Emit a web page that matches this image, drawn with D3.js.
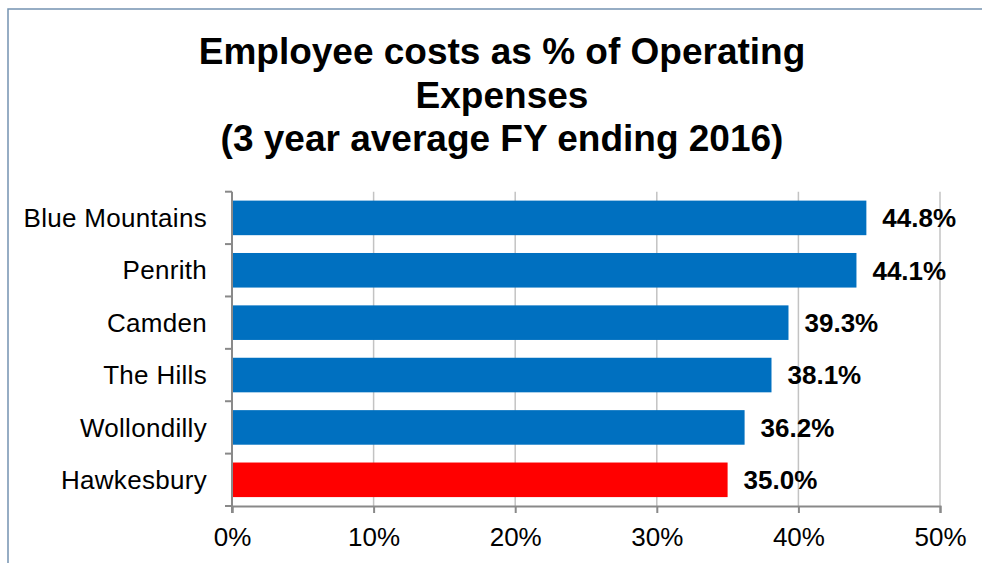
<!DOCTYPE html>
<html>
<head>
<meta charset="utf-8">
<script src="https://cdn.jsdelivr.net/npm/d3@7"></script>
<style>
  html, body { margin: 0; padding: 0; background: #fff; }
  svg { display: block; font-family: "Liberation Sans", Arial, sans-serif; }
</style>
</head>
<body>
<div id="chart"></div>
<script>
// Data
const titleLines = ['Employee costs as % of Operating', 'Expenses', '(3 year average FY ending 2016)']
const councils = ['Blue Mountains', 'Penrith', 'Camden', 'The Hills', 'Wollondilly', 'Hawkesbury']
const costShare = [44.8, 44.1, 39.3, 38.1, 36.2, 35.0]
const barColors = ['#0070c0', '#0070c0', '#0070c0', '#0070c0', '#0070c0', '#ff0000']
const xTicks = [0, 10, 20, 30, 40, 50]

// Canvas
const width = 982,
  height = 563,
  plotLeft = 232,
  plotRight = 940,
  plotTop = 191.7,
  plotBottom = 506

let svg = d3.select('#chart')
  .append('svg')
  .attr('width', width)
  .attr('height', height)

// chart frame (only top & left edges visible in the crop)
svg.append('rect')
  .attr('x', 8)
  .attr('y', 9)
  .attr('width', 1000)
  .attr('height', 600)
  .attr('fill', 'none')
  .attr('stroke', '#7493b1')
  .attr('stroke-width', 1.5)

// title
svg.append('g')
  .selectAll('text')
  .data(titleLines)
  .enter()
  .append('text')
  .attr('x', 502)
  .attr('y', (d, i) => 64 + i * 43.5)
  .attr('text-anchor', 'middle')
  .style('font-size', '37px')
  .style('font-weight', 'bold')
  .attr('fill', '#000')
  .text(d => d)

// scales
let xScale = d3.scaleLinear()
  .domain([0, 50])
  .range([plotLeft, plotRight])

let yScale = d3.scaleBand()
  .domain(councils)
  .range([plotTop, plotBottom])
  .paddingInner(0.34)
  .paddingOuter(0.17)

// gridlines
svg.append('g')
  .selectAll('line')
  .data(xTicks.slice(1))
  .enter()
  .append('line')
  .attr('x1', d => xScale(d))
  .attr('x2', d => xScale(d))
  .attr('y1', plotTop)
  .attr('y2', plotBottom)
  .attr('stroke', '#c3c3c3')
  .attr('stroke-width', 1.5)

// bars
svg.append('g')
  .selectAll('rect')
  .data(costShare)
  .enter()
  .append('rect')
  .attr('x', xScale(0))
  .attr('y', (d, i) => yScale(councils[i]))
  .attr('width', d => xScale(d) - xScale(0))
  .attr('height', yScale.bandwidth())
  .attr('fill', (d, i) => barColors[i])

// value labels
svg.append('g')
  .selectAll('text')
  .data(costShare)
  .enter()
  .append('text')
  .attr('x', d => xScale(d) + 16)
  .attr('y', (d, i) => yScale(councils[i]) + yScale.bandwidth() / 2)
  .attr('dy', '0.36em')
  .style('font-size', '26px')
  .style('font-weight', 'bold')
  .attr('fill', '#000')
  .text(d => d.toFixed(1) + '%')

// y axis (category boundaries as ticks)
let yAxis = svg.append('g')
yAxis.append('line')
  .attr('x1', plotLeft).attr('x2', plotLeft)
  .attr('y1', plotTop).attr('y2', plotBottom + 7)
  .attr('stroke', '#898989').attr('stroke-width', 2)
let step = yScale.step()
yAxis.selectAll('line.tick')
  .data(d3.range(councils.length + 1))
  .enter()
  .append('line')
  .attr('class', 'tick')
  .attr('x1', plotLeft - 7).attr('x2', plotLeft)
  .attr('y1', i => plotTop + i * step)
  .attr('y2', i => plotTop + i * step)
  .attr('stroke', '#898989').attr('stroke-width', 2)
yAxis.selectAll('text')
  .data(councils)
  .enter()
  .append('text')
  .attr('x', 207)
  .attr('y', d => yScale(d) + yScale.bandwidth() / 2)
  .attr('dy', '0.35em')
  .attr('text-anchor', 'end')
  .style('font-size', '26px')
  .style('letter-spacing', '0.3px')
  .attr('fill', '#000')
  .text(d => d)

// x axis
let xAxis = d3.axisBottom(xScale)
  .tickValues(xTicks)
  .tickSize(7)
  .tickPadding(15)
  .tickFormat(d => d + '%')
let xg = svg.append('g')
  .attr('transform', `translate(0, ${plotBottom})`)
  .call(xAxis)
xg.select('.domain').attr('stroke', '#898989').attr('stroke-width', 2)
xg.selectAll('.tick line').attr('stroke', '#898989').attr('stroke-width', 2)
xg.selectAll('.tick text')
  .attr('fill', '#000')
  .style('font-size', '26px')
  .style('font-family', '"Liberation Sans", Arial, sans-serif')
</script>
</body>
</html>
